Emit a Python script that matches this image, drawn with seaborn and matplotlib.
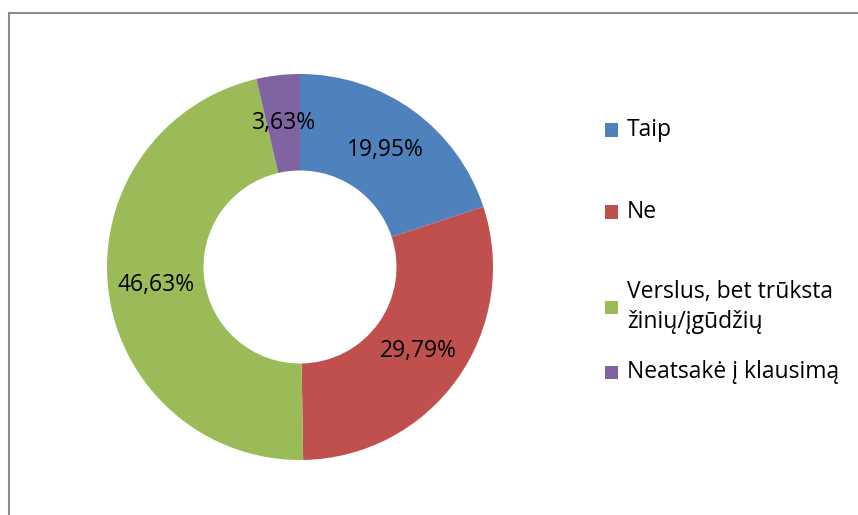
import matplotlib
matplotlib.use("Agg")
import matplotlib.pyplot as plt
import seaborn as sns
import numpy as np
from matplotlib.patches import Rectangle

sns.set_theme(style="white")
plt.rcParams['font.family'] = ['Open Sans', 'DejaVu Sans']

categories = ["Taip", "Ne", "Verslus, bet trūksta\nžinių/įgūdžių", "Neatsakė į klausimą"]
values = [19.95, 29.79, 46.63, 3.63]
pct_labels = ["19,95%", "29,79%", "46,63%", "3,63%"]
colors = ["#4F81BD", "#C0504D", "#9BBB59", "#8064A2"]

W, H = 858, 515
FS = 16.5
fig = plt.figure(figsize=(W / 100, H / 100), dpi=100)
fig.patch.set_facecolor("white")

# outer frame
fig.patches.append(Rectangle((8.5 / W, -0.2), 1.2, (H - 12.5) / H + 0.2,
                             transform=fig.transFigure, fill=False,
                             edgecolor="#8C8C8C", linewidth=1.5))

cx, cy, r = 300, 267, 193
ax = fig.add_axes([(cx - r) / W, (H - cy - r) / H, 2 * r / W, 2 * r / H])
wedges, _ = ax.pie(values, colors=colors, startangle=90, counterclock=False,
                   radius=1.0, wedgeprops=dict(width=0.5, edgecolor="none"))
ax.set_xlim(-1, 1)
ax.set_ylim(-1, 1)
ax.set_aspect("equal")
ax.axis("off")

total = sum(values)
ang = 90.0
for v, lab in zip(values, pct_labels):
    span = v / total * 360
    mid = np.deg2rad(ang - span / 2)
    ax.text(0.75 * np.cos(mid), 0.75 * np.sin(mid), lab, ha="center", va="center",
            fontsize=FS, color="black")
    ang -= span

# legend drawn manually
leg_y = [130, 212, 307, 372]
for lab, col, y in zip(categories, colors, leg_y):
    fig.patches.append(Rectangle((605 / W, (H - y - 6.5) / H), 13 / W, 13 / H,
                                 transform=fig.transFigure, facecolor=col,
                                 edgecolor="none"))
    fig.text(627 / W, (H - y) / H, lab, ha="left", va="center", fontsize=FS,
             color="black", linespacing=1.3)

fig.savefig("out.png", dpi=100, facecolor="white")
